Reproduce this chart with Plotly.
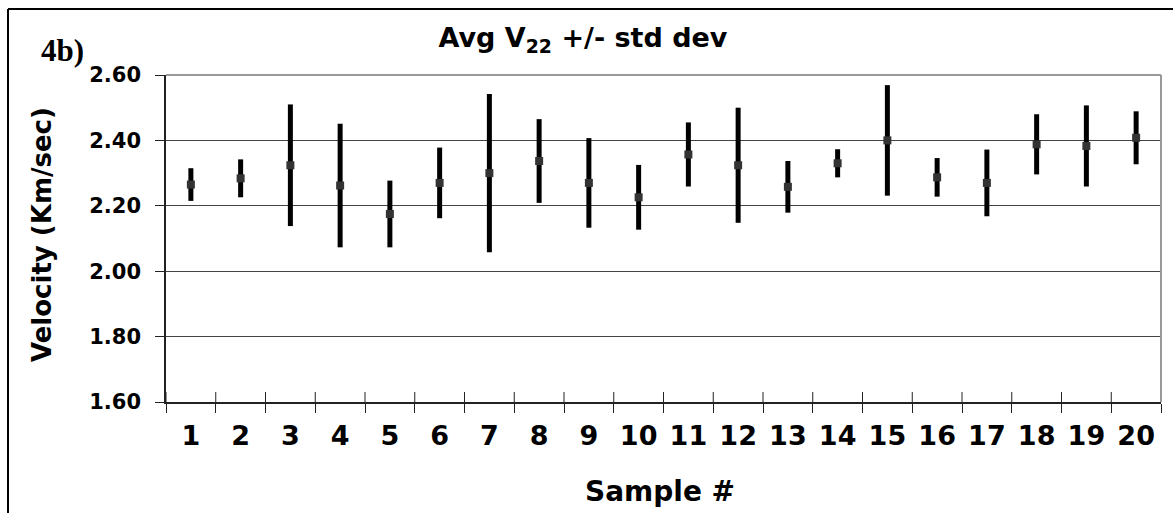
import plotly.graph_objects as go

samples = [str(i) for i in range(1, 21)]
avg_v22 = [2.265, 2.284, 2.324, 2.262, 2.175, 2.270, 2.300, 2.337, 2.270, 2.226,
           2.357, 2.324, 2.258, 2.330, 2.400, 2.287, 2.270, 2.388, 2.383, 2.408]
std_dev = [0.050, 0.058, 0.186, 0.189, 0.102, 0.108, 0.242, 0.128, 0.137, 0.099,
           0.098, 0.176, 0.079, 0.043, 0.169, 0.059, 0.102, 0.092, 0.124, 0.081]
y_ticks = [1.60, 1.80, 2.00, 2.20, 2.40, 2.60]

FONT = "DejaVu Sans"

fig = go.Figure()
fig.add_trace(go.Scatter(
    x=samples, y=avg_v22, mode="markers",
    marker=dict(symbol="square", size=8, color="#333333"),
    error_y=dict(type="data", array=std_dev, visible=True,
                 thickness=5, width=0, color="black"),
    showlegend=False, hoverinfo="x+y",
))

L, R, T, B = 166, 12, 75, 111
W, H = 1173, 513
pw, ph = W - L - R, H - T - B

def px(x):
    return (x - L) / pw

def py(y):
    return (H - B - y) / ph

# upward half of the category-boundary tick marks (Excel-style crossing ticks)
tick_shapes = [
    dict(type="line", xref="x", yref="paper", x0=i - 0.5, x1=i - 0.5,
         y0=0, y1=10 / ph, line=dict(color="#222222", width=1), layer="above")
    for i in range(len(samples) + 1)
]

fig.update_layout(
    width=W, height=H, autosize=False,
    margin=dict(l=L, r=R, t=T, b=B, pad=0),
    paper_bgcolor="white", plot_bgcolor="white",
    font=dict(family=FONT, color="black"),
    title=dict(text="<b>Avg V<sub>22</sub> +/- std dev</b>", x=583 / W, xref="container",
               xanchor="center", y=1 - 38 / H, yref="container", yanchor="middle",
               font=dict(family=FONT, size=27, color="black")),
    xaxis=dict(type="category", categoryarray=samples, range=[-0.5, 19.5],
               tickson="boundaries", ticks="outside", ticklen=9, tickwidth=1,
               tickcolor="#222222", showline=True, linecolor="#222222", linewidth=1.5,
               showgrid=False, zeroline=False,
               tickfont=dict(family=FONT, size=27, weight="bold", color="black"),
               ticklabelstandoff=9),
    yaxis=dict(range=[1.60, 2.60], tickvals=y_ticks, tickformat=".2f",
               ticks="outside", ticklen=9, tickwidth=1, tickcolor="#222222",
               showline=True, linecolor="#222222", linewidth=1.5,
               showgrid=True, gridcolor="#444444", gridwidth=1, zeroline=False,
               tickfont=dict(family=FONT, size=21, weight="bold", color="black"),
               ticklabelstandoff=10),
    annotations=[
        dict(text="<b>4b)</b>", xref="paper", yref="paper", x=px(39), y=py(50),
             xanchor="left", yanchor="middle", showarrow=False,
             font=dict(family="Liberation Serif", size=31, color="black")),
        dict(text="<b>Velocity (Km/sec)</b>", xref="paper", yref="paper", x=px(42), y=py(235),
             xanchor="center", yanchor="middle", textangle=-90, showarrow=False,
             font=dict(family=FONT, size=26, color="black")),
        dict(text="<b>Sample #</b>", xref="paper", yref="paper", x=px(660), y=py(491),
             xanchor="center", yanchor="middle", showarrow=False,
             font=dict(family=FONT, size=28, color="black")),
    ],
    shapes=tick_shapes + [
        # plot-area top and right border (gray)
        dict(type="line", xref="paper", yref="paper", x0=0, x1=1, y0=1, y1=1,
             line=dict(color="#999999", width=2)),
        dict(type="line", xref="paper", yref="paper", x0=1, x1=1, y0=0, y1=1,
             line=dict(color="#999999", width=2)),
        # chart outer frame (top and left)
        dict(type="line", xref="paper", yref="paper", x0=px(8), x1=px(W), y0=py(9), y1=py(9),
             line=dict(color="black", width=2)),
        dict(type="line", xref="paper", yref="paper", x0=px(8), x1=px(8), y0=py(9), y1=py(H),
             line=dict(color="black", width=2)),
    ],
)

fig.write_html("out.html")
